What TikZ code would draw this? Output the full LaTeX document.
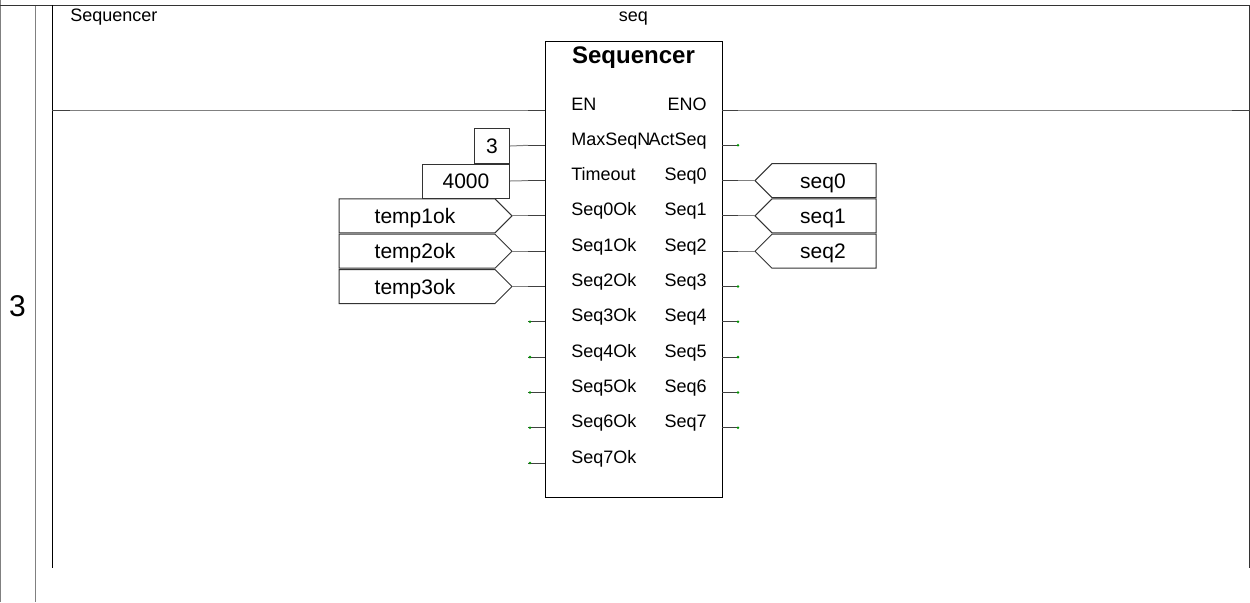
\documentclass[tikz,border=0pt]{standalone}
\usepackage{fontspec}
\setmainfont{Liberation Sans}
\definecolor{pingreen}{RGB}{0,150,0}
\definecolor{railgray}{RGB}{128,128,128}
\tikzset{
  wire/.style={draw=railgray, line width=0.5pt},
  stubline/.style={draw=black!75, line width=0.5pt},
  pinlbl/.style={inner sep=0pt, font=\fontsize{9}{10}\selectfont},
  valbox/.style={draw=black!80, line width=0.5pt, inner sep=0pt, minimum height=17pt, font=\fontsize{10.5}{12}\selectfont},
  tagtxt/.style={inner sep=0pt, font=\fontsize{10.5}{12}\selectfont},
  tagline/.style={draw=black!80, line width=0.5pt},
}
\begin{document}
\begin{tikzpicture}[x=0.5pt, y=-0.5pt]
\useasboundingbox (0,0) rectangle (1250,602);
% rails and rung frame
\draw[railgray, line width=0.5pt] (0.5,0) -- (0.5,602);
\draw[railgray, line width=0.5pt] (35,5) -- (35,602);
\draw[black!80, line width=0.5pt] (0,5) -- (1249.5,5) -- (1249.5,568);
\draw[black, line width=0.5pt] (52,5) -- (52,568);
\node[inner sep=0pt, font=\fontsize{15}{17}\selectfont, anchor=base] (rung) at (17.5,316) {3};
\node[pinlbl, anchor=base west] (fbname) at (70,21) {Sequencer};
\node[pinlbl, anchor=base] (inst) at (633.5,21) {seq};
\coordinate (lrail) at (52,110);
\coordinate (rrail) at (1249.5,110);
%
% the block
\node[draw, line width=0.5pt, minimum width=88.5pt, minimum height=228pt, anchor=north west, inner sep=0pt] (blk) at (545,41) {};
\node[inner sep=0pt, font=\bfseries\fontsize{12}{14}\selectfont, anchor=base] (title) at (633.5,63) {Sequencer};
\foreach \lbl [count=\i from 0] in {EN,MaxSeqN,Timeout,Seq0Ok,Seq1Ok,Seq2Ok,Seq3Ok,Seq4Ok,Seq5Ok,Seq6Ok,Seq7Ok} {
  \node[pinlbl, anchor=base west] (in\i) at (571,110+35.3*\i) {\lbl};
  \coordinate (inpin\i) at (545,110+35.3*\i);
  \coordinate (instub\i) at (528,110+35.3*\i);
  \draw[stubline] (inpin\i) -- (instub\i);
}
\foreach \lbl [count=\i from 0] in {ENO,ActSeq,Seq0,Seq1,Seq2,Seq3,Seq4,Seq5,Seq6,Seq7} {
  \node[pinlbl, anchor=base east] (out\i) at (707,110+35.3*\i) {\lbl};
  \coordinate (outpin\i) at (722,110+35.3*\i);
  \coordinate (outstub\i) at (738,110+35.3*\i);
  \draw[stubline] (outpin\i) -- (outstub\i);
}
% open pins
\foreach \i in {6,...,10} \fill[pingreen] (instub\i) ++(2,0) circle (0.7pt);
\foreach \i in {1,5,6,7,8,9} \fill[pingreen] (outstub\i) circle (0.7pt);
%
% EN / ENO
\draw[wire] (lrail) -- (instub0);
\draw[stubline] (lrail) -- ++(18,0);
\draw[wire] (outstub0) -- (rrail);
\draw[stubline] (rrail) -- ++(-18,0);
% constants
\node[valbox, minimum width=17.5pt, minimum height=17.5pt, anchor=east] (cmax) at (510,146) {3};
\node[valbox, minimum width=43.5pt, anchor=east] (ctime) at (510,181) {4000};
\draw[wire] (cmax.east) -- (instub1);
\draw[wire] (ctime.east) -- (instub2);
% input tags
\foreach \nm/\r in {temp1ok/3,temp2ok/4,temp3ok/5} {
  \draw[tagline] (339,110+35.3*\r-17) -- (495,110+35.3*\r-17) -- (512,110+35.3*\r) -- (495,110+35.3*\r+17) -- (339,110+35.3*\r+17) -- cycle;
  \node[tagtxt, anchor=base] (\nm) at (415,110+35.3*\r+7.5) {\nm};
  \coordinate (\nm-tip) at (512,110+35.3*\r);
  \draw[wire] (\nm-tip) -- (instub\r);
}
% output tags
\foreach \nm/\r in {seq0/2,seq1/3,seq2/4} {
  \draw[tagline] (755,110+35.3*\r) -- (772,110+35.3*\r-17) -- (876,110+35.3*\r-17) -- (876,110+35.3*\r+17) -- (772,110+35.3*\r+17) -- cycle;
  \node[tagtxt, anchor=base] (\nm) at (823,110+35.3*\r+7.5) {\nm};
  \coordinate (\nm-tip) at (755,110+35.3*\r);
  \draw[wire] (outstub\r) -- (\nm-tip);
}
\end{tikzpicture}
\end{document}
